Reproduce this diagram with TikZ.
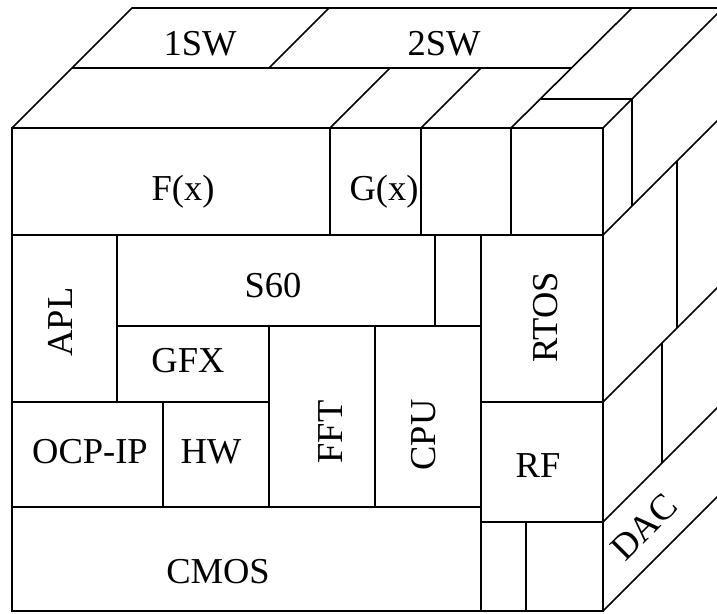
\documentclass[tikz,border=0pt]{standalone}
\usepackage{fontspec}
\setmainfont{Liberation Serif}
\begin{document}
\begin{tikzpicture}[x=1pt,y=-1pt,
  face/.style={line width=1.6pt},
  cell/.style={line width=2.1pt},
  outer/.style={line width=2.8pt},
  lbl/.style={font=\fontsize{36.5}{40}\selectfont, inner sep=0pt, anchor=base}]
\useasboundingbox (0,0) rectangle (717,613);
\clip (0,0) rectangle (717,613);

% ---- top face
\draw[face] (12,128) -- (132,8) -- (723,8);
\draw[face] (603,128) -- (723,8);
\draw[face] (72,68) -- (572,68);
\draw[face] (541,99) -- (632,99);
\draw[face] (329,8) -- (269,68);
\draw[face] (390,68) -- (330,128);
\draw[face] (481,68) -- (421,128);
\draw[face] (632,8) -- (511,128);

% ---- right face
\foreach \yy in {235,402,522,611} \draw[face] (603,\yy) -- ++(120,-120);
\draw[face] (632,99) -- (632,206);
\draw[face] (677,161) -- (677,328);
\draw[face] (662,343) -- (662,463);

% ---- front face cells
\draw[cell] (12,235) -- (603,235);
\draw[cell] (330,128) -- (330,235);
\draw[cell] (421,128) -- (421,235);
\draw[cell] (511,128) -- (511,235);
\draw[cell] (117,235) -- (117,402);
\draw[cell] (117,326) -- (481,326);
\draw[cell] (435,235) -- (435,326);
\draw[cell] (481,235) -- (481,611);
\draw[cell] (12,402) -- (269,402);
\draw[cell] (481,402) -- (603,402);
\draw[cell] (269,326) -- (269,507);
\draw[cell] (375,326) -- (375,507);
\draw[cell] (163,402) -- (163,507);
\draw[cell] (12,507) -- (481,507);
\draw[cell] (481,522) -- (603,522);
\draw[cell] (526,522) -- (526,611);
\draw[outer] (12,128) rectangle (603,611);

% ---- labels
\node[lbl] (sw1) at (200,55) {1SW};
\node[lbl] (sw2) at (444,55) {2SW};
\node[lbl] (fx) at (183,200) {F(x)};
\node[lbl] (gx) at (384,200) {G(x)};
\node[lbl] (s60) at (273,297) {S60};
\node[lbl, rotate=90] (apl) at (72,322) {APL};
\node[lbl, rotate=90] (rtos) at (557,317) {RTOS};
\node[lbl] (gfx) at (188,372) {GFX};
\node[lbl, rotate=90] (fft) at (342,432) {FFT};
\node[lbl, rotate=90] (cpu) at (435,435) {CPU};
\node[lbl] (ocp) at (90,463) {OCP-IP};
\node[lbl] (hw) at (211,463) {HW};
\node[lbl] (rf) at (538,477) {RF};
\node[lbl] (cmos) at (218,583) {CMOS};
\node[lbl, anchor=center, rotate=45] (dac) at (644,527) {DAC};
\end{tikzpicture}
\end{document}
